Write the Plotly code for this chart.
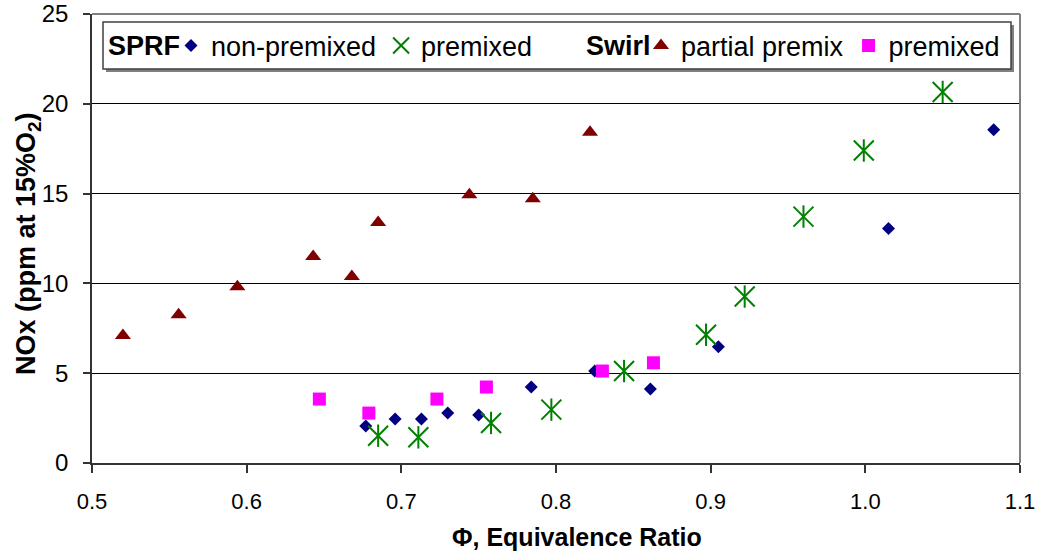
import plotly.graph_objects as go

# ---- data ----
sprf_np_phi = [0.677, 0.696, 0.713, 0.730, 0.750, 0.784, 0.825, 0.861, 0.905, 1.015, 1.083]
sprf_np_nox = [2.06, 2.45, 2.45, 2.78, 2.67, 4.23, 5.12, 4.12, 6.47, 13.06, 18.55]

sprf_pm_phi = [0.685, 0.711, 0.758, 0.797, 0.844, 0.897, 0.922, 0.960, 0.999, 1.050]
sprf_pm_nox = [1.52, 1.43, 2.23, 2.97, 5.12, 7.14, 9.27, 13.72, 17.40, 20.66]

swirl_pp_phi = [0.520, 0.556, 0.594, 0.643, 0.668, 0.685, 0.744, 0.785, 0.822]
swirl_pp_nox = [7.10, 8.26, 9.81, 11.50, 10.38, 13.39, 14.93, 14.71, 18.42]

swirl_pm_phi = [0.647, 0.679, 0.723, 0.755, 0.830, 0.863]
swirl_pm_nox = [3.56, 2.78, 3.56, 4.23, 5.12, 5.58]

x_ticks = [0.5, 0.6, 0.7, 0.8, 0.9, 1.0, 1.1]
y_ticks = [0, 5, 10, 15, 20, 25]

FONT = "Liberation Sans, Arial, sans-serif"
W, H = 1039, 556
ML, MR, MT, MB = 92, 19, 14, 93
PW, PH = W - ML - MR, H - MT - MB

def px_x(p):
    return (p - ML) / PW

def px_y(p):
    return (H - MB - p) / PH

fig = go.Figure()

fig.add_trace(go.Scatter(
    x=sprf_np_phi, y=sprf_np_nox, mode="markers", name="non-premixed",
    legend="legend",
    marker=dict(symbol="diamond", size=10, color="#000080"),
))
fig.add_trace(go.Scatter(
    x=sprf_pm_phi, y=sprf_pm_nox, mode="markers", name="premixed",
    legend="legend",
    marker=dict(symbol="x-thin-open", size=20, color="#008000",
                line=dict(color="#008000", width=2)),
))
fig.add_trace(go.Scatter(
    x=sprf_pm_phi, y=sprf_pm_nox, mode="markers", showlegend=False,
    hoverinfo="skip",
    marker=dict(symbol="line-ns-open", size=16, color="#008000",
                line=dict(color="#008000", width=2)),
))
fig.add_trace(go.Scatter(
    x=swirl_pp_phi, y=swirl_pp_nox, mode="markers", name="partial premix",
    legend="legend2",
    marker=dict(symbol="triangle-up", size=14, color="#800000"),
))
fig.add_trace(go.Scatter(
    x=swirl_pm_phi, y=swirl_pm_nox, mode="markers", name="premixed",
    legend="legend2",
    marker=dict(symbol="square", size=13, color="#FF00FF"),
))

legend_y = px_y(46)
legend_common = dict(
    orientation="h", yanchor="middle", y=legend_y, xanchor="left",
    bgcolor="rgba(0,0,0,0)", borderwidth=0,
    font=dict(family=FONT, size=27, color="black"),
    itemclick=False, itemdoubleclick=False,
)

fig.update_layout(
    width=W, height=H,
    margin=dict(l=ML, r=MR, t=MT, b=MB, autoexpand=False),
    paper_bgcolor="white", plot_bgcolor="white",
    font=dict(family=FONT, color="black"),
    legend=dict(x=px_x(171), **legend_common),
    legend2=dict(x=px_x(641), **legend_common),
    xaxis=dict(
        range=[0.5, 1.1], tickvals=x_ticks, tickformat=".1f",
        showgrid=False, zeroline=False, automargin=False,
        showline=True, linecolor="#333333", linewidth=1.5,
        ticks="outside", ticklen=8, tickcolor="#333333", tickwidth=1.5,
        tickfont=dict(family=FONT, size=22, color="black"),
        ticklabelstandoff=10,
    ),
    yaxis=dict(
        range=[0, 25], tickvals=y_ticks, automargin=False,
        showgrid=True, gridcolor="black", gridwidth=1.3,
        zeroline=False,
        showline=True, linecolor="#333333", linewidth=1.5,
        ticks="outside", ticklen=7, tickcolor="#333333", tickwidth=1.5,
        tickfont=dict(family=FONT, size=24, color="black"),
        ticklabelstandoff=10,
    ),
    shapes=[
        # plot-area border (grey, top and right)
        dict(type="line", xref="paper", yref="paper", x0=0, x1=1, y0=1, y1=1,
             line=dict(color="#808080", width=2), layer="above"),
        dict(type="line", xref="paper", yref="paper", x0=1, x1=1, y0=0, y1=1,
             line=dict(color="#808080", width=2), layer="above"),
        # legend box shadow
        dict(type="rect", xref="paper", yref="paper",
             x0=px_x(106), x1=px_x(1014), y0=px_y(72), y1=px_y(25),
             fillcolor="#808080", line=dict(width=0), layer="above"),
        # legend box
        dict(type="rect", xref="paper", yref="paper",
             x0=px_x(103), x1=px_x(1011), y0=px_y(69), y1=px_y(22),
             fillcolor="white", line=dict(color="#404040", width=1.5), layer="above"),
    ],
    annotations=[
        dict(text="<b>SPRF</b>", xref="paper", yref="paper", x=px_x(106), y=legend_y,
             xanchor="left", yanchor="middle", showarrow=False,
             font=dict(family=FONT, size=27, color="black")),
        dict(text="<b>Swirl</b>", xref="paper", yref="paper", x=px_x(584), y=legend_y,
             xanchor="left", yanchor="middle", showarrow=False,
             font=dict(family=FONT, size=27, color="black")),
        dict(text="<b>Φ, Equivalence Ratio</b>", xref="paper", yref="paper",
             x=px_x(577), y=px_y(537), xanchor="center", yanchor="middle",
             showarrow=False, font=dict(family=FONT, size=25, color="black")),
        dict(text="<b>NOx (ppm at 15%O<sub>2</sub>)</b>", xref="paper", yref="paper",
             x=px_x(28), y=px_y(244), xanchor="center", yanchor="middle",
             textangle=-90, showarrow=False,
             font=dict(family=FONT, size=27, color="black")),
    ],
)

fig.write_html(
    "out.html",
    config={"displayModeBar": False},
    post_script="document.body.style.margin='0';document.body.style.overflow='hidden';",
)
